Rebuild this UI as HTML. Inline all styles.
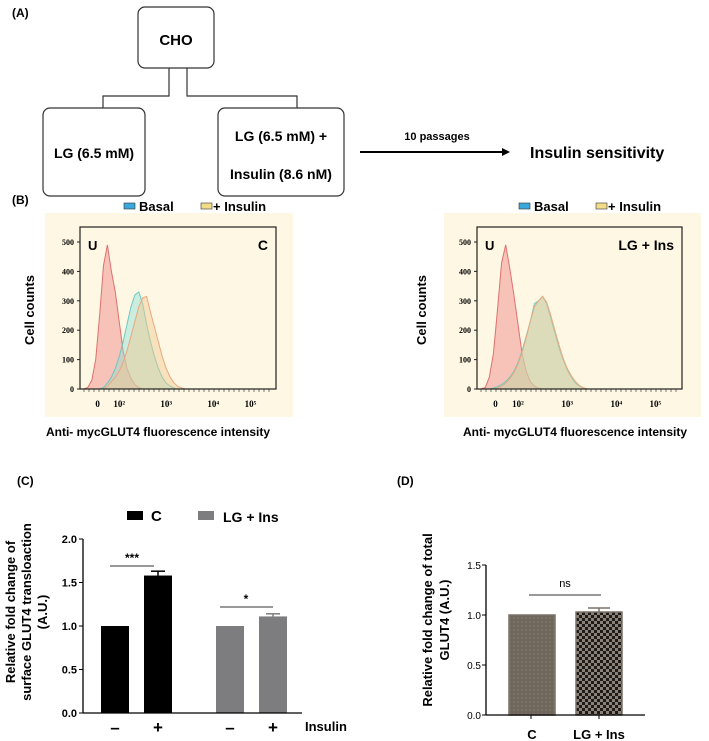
<!DOCTYPE html>
<html><head><meta charset="utf-8">
<style>
body{margin:0;background:#fff;}
svg{display:block;font-family:"Liberation Sans",sans-serif;}
</style></head>
<body>
<svg id="fig" width="709" height="741" viewBox="0 0 709 741">
<defs>
<pattern id="dots" width="4" height="4" patternUnits="userSpaceOnUse">
<rect width="4" height="4" fill="#6f665c"/><circle cx="2" cy="2" r="0.8" fill="#8a8178"/>
</pattern>
<pattern id="checks" width="6" height="6" patternUnits="userSpaceOnUse">
<rect width="6" height="6" fill="#8a8178"/><rect width="3" height="3" fill="#1e1a18"/><rect x="3" y="3" width="3" height="3" fill="#1e1a18"/>
</pattern>
</defs>

<!-- Panel A -->
<g>
<text x="12" y="17" font-size="12" font-weight="bold">(A)</text>
<rect x="138" y="7" width="76" height="61" rx="7" fill="#fff" stroke="#333" stroke-width="1.2"/>
<text x="176" y="45" font-size="15" font-weight="bold" text-anchor="middle">CHO</text>
<path d="M169 68 V96 H103 V108 M187 68 V96 H297 V108" fill="none" stroke="#333" stroke-width="1.2"/>
<rect x="43" y="108" width="102" height="88" rx="7" fill="#fff" stroke="#333" stroke-width="1.2"/>
<text x="94" y="158" font-size="14" font-weight="bold" text-anchor="middle">LG (6.5 mM)</text>
<rect x="218" y="108" width="126" height="88" rx="7" fill="#fff" stroke="#333" stroke-width="1.2"/>
<text x="281" y="141" font-size="14" font-weight="bold" text-anchor="middle">LG (6.5 mM) +</text>
<text x="281" y="179" font-size="14" font-weight="bold" text-anchor="middle">Insulin (8.6 nM)</text>
<line x1="360" y1="152" x2="505" y2="152" stroke="#000" stroke-width="2"/>
<polygon points="510,152 502,148 502,156" fill="#000"/>
<text x="437" y="140" font-size="11" font-weight="bold" text-anchor="middle">10 passages</text>
<text x="530" y="158" font-size="16" font-weight="bold">Insulin sensitivity</text>
</g>

<!-- Panel B -->
<text x="12" y="204" font-size="12" font-weight="bold">(B)</text>
<g id="histL"></g>
<g id="histR"></g>

<!-- Panel C -->
<g id="barC"></g>
<!-- Panel D -->
<g id="barD"></g>
</svg>
<script>
const NS="http://www.w3.org/2000/svg";
function mk(parent,tag,attrs,txt){const e=document.createElementNS(NS,tag);for(const k in attrs)e.setAttribute(k,attrs[k]);if(txt!==undefined)e.textContent=txt;parent.appendChild(e);return e;}

// ---------- Histogram data (channel bins 0..60 step 2, in % of axis width) ----------
const histBins=[0,2,4,6,8,10,12,14,16,18,20,22,24,26,28,30,32,34,36,38,40,42,44,46,48,50,52,54,56,58,60];
const yTicksHist=[0,100,200,300,400,500];
const xTickLabels=["0","10²","10³","10⁴","10⁵"];
const xTickPos=[9,20,44,68,87];
const uC=      [0,0,5,30,100,250,420,490,400,330,230,130,70,35,15,5,0,0,0,0,0,0,0,0,0,0,0,0,0,0,0];
const basalC=  [0,0,0,0,0,0,5,20,40,70,110,160,220,280,320,330,290,220,160,110,70,40,20,10,3,0,0,0,0,0,0];
const insulinC=[0,0,0,0,0,0,0,10,25,40,60,90,130,180,230,280,310,315,260,210,160,110,70,40,20,8,3,0,0,0,0];
const uR=      [0,0,5,40,120,270,430,490,410,320,220,120,60,25,10,3,0,0,0,0,0,0,0,0,0,0,0,0,0,0,0];
const basalR=  [0,0,0,0,3,8,15,25,40,60,90,130,180,230,290,300,315,290,240,190,140,100,65,40,20,10,3,0,0,0,0];
const insulinR=[0,0,0,0,0,3,10,20,35,55,85,125,175,230,280,300,315,295,250,200,150,105,70,45,25,12,4,0,0,0,0];

function histogram(g,o){
  mk(g,'rect',{x:o.bgx,y:213,width:o.bgw,height:204,fill:'#fdf7e3'});
  const lg=mk(g,'g',{});
  
  mk(lg,'rect',{x:o.legx,y:203,width:11,height:6,fill:'#3aa8dc',stroke:'#333','stroke-width':0.6});
  mk(lg,'text',{x:o.legx+15,y:211,'font-size':13,'font-weight':'bold'},'Basal');
  mk(lg,'rect',{x:o.legx+77,y:203,width:11,height:6,fill:'#f2dc8a',stroke:'#333','stroke-width':0.6});
  mk(lg,'text',{x:o.legx+89,y:211,'font-size':13,'font-weight':'bold'},'+ Insulin');
  const X0=o.x0,X1=o.x1,Y0=389,Y1=227;
  const xs=v=>X0+(X1-X0)*v/100, ys=v=>Y0-(Y0-242)*v/500;
  function area(vals,fill,stroke,name){
    let d='M'+xs(histBins[0])+' '+ys(0);
    vals.forEach((v,i)=>{d+=' L'+xs(histBins[i]).toFixed(1)+' '+ys(v).toFixed(1);});
    d+=' L'+xs(histBins[histBins.length-1])+' '+ys(0)+' Z';
    const p=mk(g,'path',{d:d,fill:fill,'fill-opacity':0.45,stroke:stroke,'stroke-width':1});
    
    
  }
  area(o.u,'#f08080','#e07070','unstained-curve');
  area(o.b,'#8ee0d8','#6cc8c0','basal-curve');
  area(o.i,'#f2c890','#e8a880','insulin-curve');
  mk(g,'rect',{x:X0,y:Y1,width:X1-X0,height:Y0-Y1,fill:'none',stroke:'#222','stroke-width':1.2});
  yTicksHist.forEach(t=>{
    mk(g,'line',{x1:X0-3,x2:X0,y1:ys(t),y2:ys(t),stroke:'#222'});
    const tx=mk(g,'text',{x:X0-6,y:ys(t)+3,'font-size':8,'font-weight':'bold','font-family':'Liberation Serif','text-anchor':'end'},String(t));
    
  });
  xTickLabels.forEach((t,i)=>{
    const tx=mk(g,'text',{x:xs(xTickPos[i]),y:407,'font-size':9,'font-weight':'bold','font-family':'Liberation Serif','text-anchor':'middle'},t);
    
  });
  for(let x=X0+4;x<X1-2;x+=5)mk(g,'line',{x1:x,x2:x,y1:Y0,y2:Y0+3,stroke:'#222','stroke-width':0.6});
  mk(g,'text',{x:X0+8,y:250,'font-size':13,'font-weight':'bold'},'U');
  const lab=mk(g,'text',{x:X1-8,y:250,'font-size':14,'font-weight':'bold','text-anchor':'end'},o.label);
  
  const yt=mk(g,'text',{transform:`translate(${o.ytx},310) rotate(-90)`,'font-size':13,'font-weight':'bold','text-anchor':'middle'},'Cell counts');
  
  const xt=mk(g,'text',{x:o.xtx,y:436,'font-size':12,'font-weight':'bold','text-anchor':'middle'},'Anti- mycGLUT4 fluorescence intensity');
  
}
histogram(document.getElementById('histL'),{bgx:45,bgw:248,legx:124,x0:80,x1:276,u:uC,b:basalC,i:insulinC,label:'C',ytx:34,xtx:158});
histogram(document.getElementById('histR'),{bgx:444,bgw:257,legx:519,x0:477,x1:682,u:uR,b:basalR,i:insulinR,label:'LG + Ins',ytx:426,xtx:575});

// ---------- Panel C ----------
const cCategories=["C -","C +","LG+Ins -","LG+Ins +"];
const cValues=[1.0,1.58,1.0,1.11];
const cErrors=[0,0.05,0,0.03];
const cTicks=[0,0.5,1.0,1.5,2.0];
(function(){
  const g=document.getElementById('barC');
  mk(g,'text',{x:17,y:485,'font-size':12,'font-weight':'bold'},'(C)');
  const Y0=713,k=87,AX=83;
  const ys=v=>Y0-v*k;
  const bx=[101,144,216,259],bw=28,cols=['#000','#000','#7d7d80','#7d7d80'];
  cValues.forEach((v,i)=>{
    const r=mk(g,'rect',{x:bx[i],y:ys(v),width:bw,height:v*k,fill:cols[i]});
    
    
    if(cErrors[i]>0){
      const cx=bx[i]+bw/2;
      mk(g,'line',{x1:cx,x2:cx,y1:ys(v),y2:ys(v+cErrors[i]),stroke:cols[i],'stroke-width':1.5});
      mk(g,'line',{x1:cx-7,x2:cx+7,y1:ys(v+cErrors[i]),y2:ys(v+cErrors[i]),stroke:cols[i],'stroke-width':1.5});
    }
  });
  mk(g,'line',{x1:AX,x2:AX,y1:ys(2),y2:Y0,stroke:'#000','stroke-width':1.3});
  mk(g,'line',{x1:AX,x2:302,y1:Y0,y2:Y0,stroke:'#000','stroke-width':1.3});
  cTicks.forEach(t=>{
    mk(g,'line',{x1:AX-4,x2:AX,y1:ys(t),y2:ys(t),stroke:'#000'});
    mk(g,'text',{x:AX-6,y:ys(t)+4,'font-size':11,'font-weight':'bold','text-anchor':'end'},t.toFixed(1));
  });
  mk(g,'line',{x1:110,x2:154,y1:566,y2:566,stroke:'#333'});
  mk(g,'text',{x:132,y:562,'font-size':12,'font-weight':'bold','text-anchor':'middle'},'***');
  mk(g,'line',{x1:220,x2:273,y1:607,y2:607,stroke:'#333'});
  mk(g,'text',{x:246,y:603,'font-size':12,'font-weight':'bold','text-anchor':'middle'},'*');
  const lg=mk(g,'g',{});
  mk(lg,'rect',{x:127,y:511,width:16,height:9,fill:'#000'});
  mk(lg,'text',{x:151,y:521,'font-size':15,'font-weight':'bold'},'C');
  mk(lg,'rect',{x:198,y:511,width:16,height:9,fill:'#7d7d80'});
  mk(lg,'text',{x:223,y:522,'font-size':14,'font-weight':'bold'},'LG + Ins');
  ['–','+','–','+'].forEach((s,i)=>mk(g,'text',{x:bx[i]+bw/2,y:733,'font-size':17,'font-weight':'bold','text-anchor':'middle'},s));
  mk(g,'text',{x:305,y:731,'font-size':13,'font-weight':'bold'},'Insulin');
  const yt=mk(g,'text',{transform:'translate(30,612) rotate(-90)','font-size':13,'font-weight':'bold','text-anchor':'middle'});
  
  mk(yt,'tspan',{x:0,dy:-15},'Relative fold change of');
  mk(yt,'tspan',{x:0,dy:16},'surface GLUT4 transloaction');
  mk(yt,'tspan',{x:0,dy:16},'(A.U.)');
})();

// ---------- Panel D ----------
const dCategories=["C","LG + Ins"];
const dValues=[1.0,1.03];
const dErrors=[0,0.04];
const dTicks=[0,0.5,1.0,1.5];
(function(){
  const g=document.getElementById('barD');
  mk(g,'text',{x:397,y:485,'font-size':12,'font-weight':'bold'},'(D)');
  const Y0=715,k=100,AX=486;
  const ys=v=>Y0-v*k;
  const bx=[509,576],bw=46,fills=['url(#dots)','url(#checks)'];
  dValues.forEach((v,i)=>{
    const r=mk(g,'rect',{x:bx[i],y:ys(v),width:bw,height:v*k,fill:fills[i],stroke:'#7a7268','stroke-width':1.5});
    
    
    if(dErrors[i]>0){
      const cx=bx[i]+bw/2;
      mk(g,'line',{x1:cx,x2:cx,y1:ys(v),y2:ys(v+dErrors[i]),stroke:'#7a7268','stroke-width':1.5});
      mk(g,'line',{x1:cx-11,x2:cx+11,y1:ys(v+dErrors[i]),y2:ys(v+dErrors[i]),stroke:'#7a7268','stroke-width':1.5});
    }
    mk(g,'text',{x:bx[i]+bw/2,y:739,'font-size':13,'font-weight':'bold','text-anchor':'middle'},dCategories[i]);
  });
  mk(g,'line',{x1:AX,x2:AX,y1:ys(1.5),y2:Y0,stroke:'#000','stroke-width':1.3});
  mk(g,'line',{x1:AX,x2:645,y1:Y0,y2:Y0,stroke:'#000','stroke-width':1.3});
  dTicks.forEach(t=>{
    mk(g,'line',{x1:AX-4,x2:AX,y1:ys(t),y2:ys(t),stroke:'#000'});
    mk(g,'text',{x:AX-5,y:ys(t)+4,'font-size':10,'text-anchor':'end'},t.toFixed(1));
  });
  [531,599].forEach(x=>mk(g,'line',{x1:x,x2:x,y1:Y0,y2:Y0+4,stroke:'#000'}));
  mk(g,'line',{x1:529,x2:601,y1:595,y2:595,stroke:'#333'});
  mk(g,'text',{x:565,y:587,'font-size':11,'text-anchor':'middle'},'ns');
  const yt=mk(g,'text',{transform:'translate(437,620) rotate(-90)','font-size':13,'font-weight':'bold','text-anchor':'middle'});
  
  mk(yt,'tspan',{x:0,dy:-5},'Relative fold change of total');
  mk(yt,'tspan',{x:0,dy:17},'GLUT4 (A.U.)');
})();
</script>
</body></html>
